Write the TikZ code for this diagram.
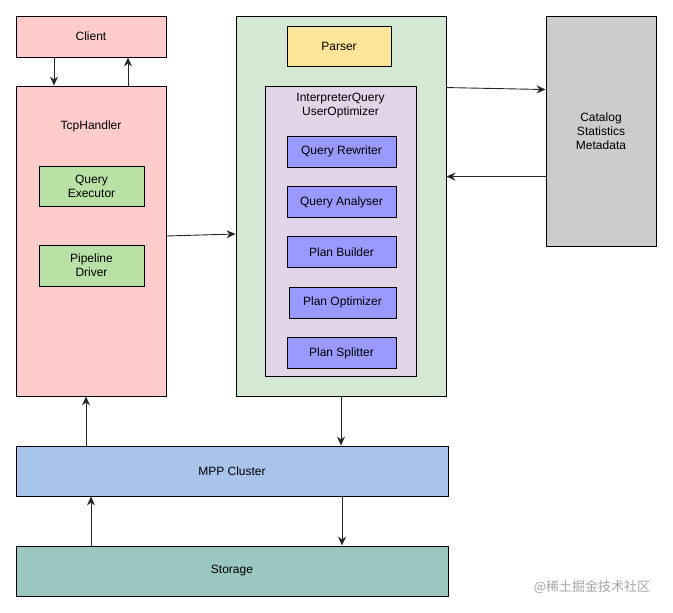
\documentclass[tikz,border=0pt]{standalone}
\usepackage{fontspec}
\setmainfont{Liberation Sans}
\newfontfamily\cjk{Noto Sans CJK SC}
\usepackage{xcolor}
\usetikzlibrary{arrows.meta,positioning}
\definecolor{clientred}{HTML}{FFCCCC}
\definecolor{execgreen}{HTML}{B9E0A5}
\definecolor{optgreen}{HTML}{D5E8D4}
\definecolor{parseryellow}{HTML}{FFE599}
\definecolor{interplilac}{HTML}{E1D5E7}
\definecolor{stepblue}{HTML}{9999FF}
\definecolor{catgray}{HTML}{CCCCCC}
\definecolor{mppblue}{HTML}{A9C4EB}
\definecolor{storeteal}{HTML}{9AC7BF}
\begin{document}
\begin{tikzpicture}[x=1pt,y=-1pt,
box/.style={draw,line width=0.9pt,inner sep=0pt,align=center,font=\fontsize{12}{14}\selectfont},
stepbox/.style={box,fill=stepblue,minimum width=109pt,minimum height=31pt},
arr/.style={-{Stealth[length=9pt,width=8pt,inset=3pt]},line width=0.9pt,draw=black!85}]
\useasboundingbox (0,0) rectangle (673,613);
% left column
\node[box,fill=clientred,minimum width=150pt,minimum height=41pt] (client) at (91,36.5) {Client};
\node[box,fill=clientred,minimum width=150pt,minimum height=310pt] (tcp) at (91,241) {};
\node[font=\fontsize{12}{14}\selectfont] (tcplbl) at (91,126) {TcpHandler};
\node[box,fill=execgreen,minimum width=105pt,minimum height=40pt] (qexec) at (91.5,186) {Query\\Executor};
\node[box,fill=execgreen,minimum width=105pt,minimum height=41pt] (pdriver) at (91.5,265.5) {Pipeline\\Driver};
% optimizer block
\node[box,fill=optgreen,minimum width=210pt,minimum height=380pt] (opt) at (341,206) {};
\node[box,fill=parseryellow,minimum width=104pt,minimum height=40pt] (parser) at (339,46) {Parser};
\node[box,fill=interplilac,minimum width=151pt,minimum height=290pt] (interp) at (340.5,231) {};
\node[font=\fontsize{12}{14}\selectfont,align=center] (interplbl) at (340.5,106) {InterpreterQuery\\UserOptimizer};
\node[stepbox] (rewriter) at (341.5,151.5) {Query Rewriter};
\node[stepbox,below=18.5pt of rewriter] (analyser) {Query Analyser};
\node[stepbox,below=18.5pt of analyser] (builder) {Plan Builder};
\node[stepbox,minimum width=107pt,below=18.5pt of builder,xshift=1pt] (optimizer) {Plan Optimizer};
\node[stepbox,below=18.5pt of optimizer,xshift=-1pt] (splitter) {Plan Splitter};
% right and bottom
\node[box,fill=catgray,minimum width=110pt,minimum height=230pt] (catalog) at (601,131) {Catalog\\Statistics\\Metadata};
\node[box,fill=mppblue,minimum width=432pt,minimum height=50pt] (mpp) at (232,471) {MPP Cluster};
\node[box,fill=storeteal,minimum width=432pt,minimum height=50pt] (storage) at (232,571) {Storage};
\node[text=black!35,font=\cjk\fontsize{13}{15}\selectfont] (mark) at (592,587) {@稀土掘金技术社区};
% connectors
\draw[arr] ([xshift=-37pt]client.south) -- ([xshift=-37pt]tcp.north);
\draw[arr] ([xshift=37pt]tcp.north) -- ([xshift=37pt]client.south);
\draw[arr] ([yshift=5pt]tcp.east) -- ([yshift=7pt]opt.west |- tcp.east);
\draw[arr] ([yshift=-72pt]opt.north east) -- ([yshift=-74pt]catalog.north west);
\draw[arr] ([yshift=-161pt]catalog.north west) -- ([yshift=-161pt]opt.north east);
\draw[arr] (opt.south) -- (opt.south |- mpp.north);
\draw[arr] ([xshift=-5pt]tcp.south |- mpp.north) -- ([xshift=-5pt]tcp.south);
\draw[arr] (storage.north -| tcp.south) -- (mpp.south -| tcp.south);
\draw[arr] ([xshift=1pt]mpp.south -| opt.south) -- ([xshift=1pt]storage.north -| opt.south);
\end{tikzpicture}
\end{document}
